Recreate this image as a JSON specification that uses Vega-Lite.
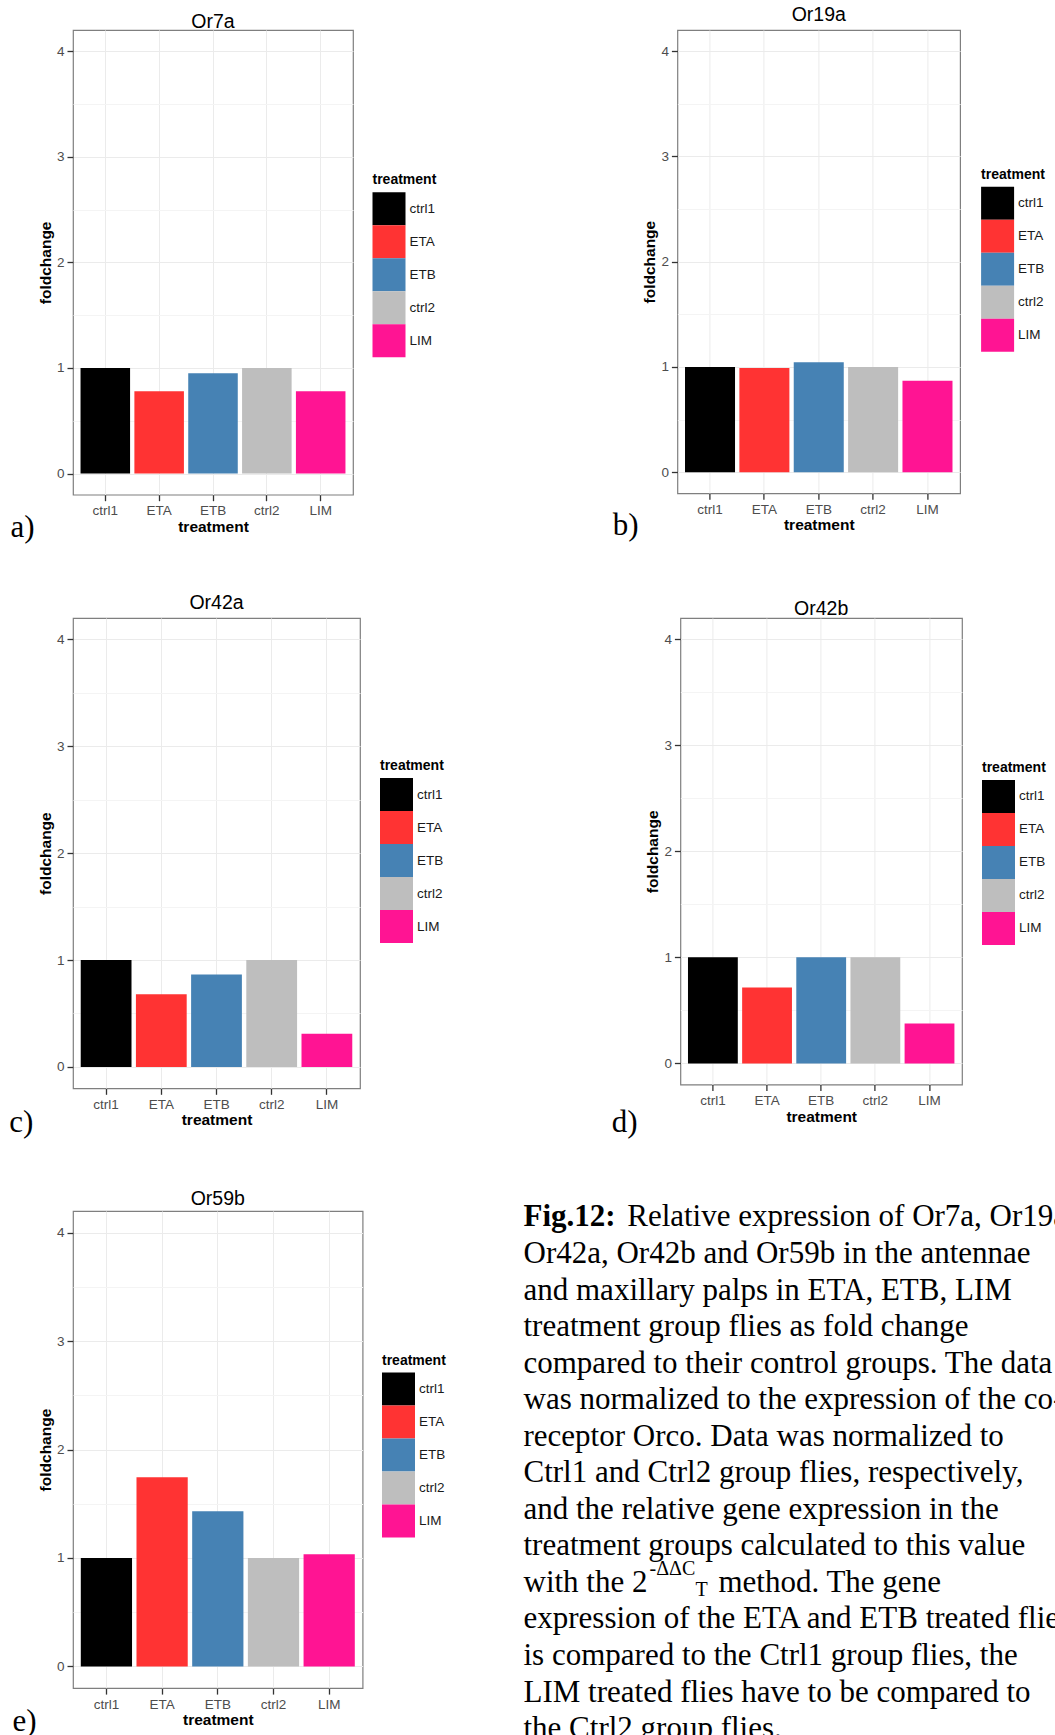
{
  "$schema": "https://vega.github.io/schema/vega-lite/v6.json",
  "padding": {"left": 9, "top": 4, "right": 0, "bottom": 0},
  "background": "white",
  "config": {
    "font": "Liberation Sans",
    "view": {"stroke": "#7f7f7f", "strokeWidth": 1.2},
    "axis": {"domain": false, "tickColor": "#333333", "tickSize": 6, "tickWidth": 1.3, "labelColor": "#4d4d4d", "labelFontSize": 13.5, "titleFontSize": 15.5, "titleFontWeight": "bold", "titleColor": "#000000", "gridColor": "#ebebeb", "gridWidth": 1},
    "title": {"fontSize": 19.5, "fontWeight": "normal", "color": "#000000", "font": "Liberation Sans"}
  },
  "datasets": {
    "bars": [
      {"gene": "Or7a", "treatment": "ctrl1", "foldchange": 1.0},
      {"gene": "Or7a", "treatment": "ETA", "foldchange": 0.78},
      {"gene": "Or7a", "treatment": "ETB", "foldchange": 0.95},
      {"gene": "Or7a", "treatment": "ctrl2", "foldchange": 1.0},
      {"gene": "Or7a", "treatment": "LIM", "foldchange": 0.78},
      {"gene": "Or19a", "treatment": "ctrl1", "foldchange": 1.0},
      {"gene": "Or19a", "treatment": "ETA", "foldchange": 0.99},
      {"gene": "Or19a", "treatment": "ETB", "foldchange": 1.045},
      {"gene": "Or19a", "treatment": "ctrl2", "foldchange": 1.0},
      {"gene": "Or19a", "treatment": "LIM", "foldchange": 0.87},
      {"gene": "Or42a", "treatment": "ctrl1", "foldchange": 1.0},
      {"gene": "Or42a", "treatment": "ETA", "foldchange": 0.68},
      {"gene": "Or42a", "treatment": "ETB", "foldchange": 0.865},
      {"gene": "Or42a", "treatment": "ctrl2", "foldchange": 1.0},
      {"gene": "Or42a", "treatment": "LIM", "foldchange": 0.31},
      {"gene": "Or42b", "treatment": "ctrl1", "foldchange": 1.0},
      {"gene": "Or42b", "treatment": "ETA", "foldchange": 0.715},
      {"gene": "Or42b", "treatment": "ETB", "foldchange": 1.0},
      {"gene": "Or42b", "treatment": "ctrl2", "foldchange": 1.0},
      {"gene": "Or42b", "treatment": "LIM", "foldchange": 0.375},
      {"gene": "Or59b", "treatment": "ctrl1", "foldchange": 1.0},
      {"gene": "Or59b", "treatment": "ETA", "foldchange": 1.745},
      {"gene": "Or59b", "treatment": "ETB", "foldchange": 1.43},
      {"gene": "Or59b", "treatment": "ctrl2", "foldchange": 1.0},
      {"gene": "Or59b", "treatment": "LIM", "foldchange": 1.035}
    ],
    "caption": [
      {"line": 1, "part": "bold", "text": "Fig.12:"},
      {"line": 1, "part": "first", "text": "Relative expression of Or7a, Or19a,"},
      {"line": 2, "part": "body", "text": "Or42a, Or42b and Or59b in the antennae"},
      {"line": 3, "part": "body", "text": "and maxillary palps in ETA, ETB, LIM"},
      {"line": 4, "part": "body", "text": "treatment group flies as fold change"},
      {"line": 5, "part": "body", "text": "compared to their control groups. The data"},
      {"line": 6, "part": "body", "text": "was normalized to the expression of the co-"},
      {"line": 7, "part": "body", "text": "receptor Orco. Data was normalized to"},
      {"line": 8, "part": "body", "text": "Ctrl1 and Ctrl2 group flies, respectively,"},
      {"line": 9, "part": "body", "text": "and the relative gene expression in the"},
      {"line": 10, "part": "body", "text": "treatment groups calculated to this value"},
      {"line": 11, "part": "body", "text": "with the 2"},
      {"line": 11, "part": "sup", "text": "-ΔΔC"},
      {"line": 11, "part": "sub", "text": "T"},
      {"line": 11, "part": "after", "text": "method. The gene"},
      {"line": 12, "part": "body", "text": "expression of the ETA and ETB treated flies"},
      {"line": 13, "part": "body", "text": "is compared to the Ctrl1 group flies, the"},
      {"line": 14, "part": "body", "text": "LIM treated flies have to be compared to"},
      {"line": 15, "part": "body", "text": "the Ctrl2 group flies."}
    ]
  },
  "spacing": 49,
  "resolve": {"scale": {"color": "independent"}, "legend": {"color": "independent"}},
  "vconcat": [
    {
      "spacing": 174.4,
      "resolve": {"scale": {"color": "independent"}, "legend": {"color": "independent"}},
      "hconcat": [
        {
          "resolve": {"scale": {"color": "independent"}, "legend": {"color": "independent"}},
          "title": {"text": "a)", "orient": "left", "anchor": "start", "angle": 0, "align": "right", "baseline": "bottom", "font": "Liberation Serif", "fontSize": 31, "fontWeight": "normal", "color": "#000000", "offset": -20.8, "dy": 8.4},
          "vconcat": [
            {
              "width": 280, "height": 464.7,
              "title": {"text": "Or7a", "offset": -2.6},
              "data": {"name": "bars"},
              "transform": [{"filter": "datum.gene === 'Or7a'"}],
              "mark": {"type": "bar"},
              "encoding": {
                "x": {"field": "treatment", "type": "nominal", "sort": ["ctrl1", "ETA", "ETB", "ctrl2", "LIM"], "scale": {"paddingInner": 0.08, "paddingOuter": 0.14}, "axis": {"title": "treatment", "labelAngle": 0, "grid": true, "bandPosition": 0.5, "labelPadding": 3, "titlePadding": 2}},
                "y": {"field": "foldchange", "type": "quantitative", "scale": {"domain": [-0.2, 4.2], "nice": false, "zero": false}, "axis": {"title": "foldchange", "values": [0, 0.5, 1, 1.5, 2, 2.5, 3, 3.5, 4], "labelExpr": "datum.value % 1 === 0 ? '' + datum.value : ''", "gridColor": {"condition": {"test": "datum.value % 1 !== 0", "value": "#f4f4f4"}, "value": "#ebebeb"}, "tickColor": {"condition": {"test": "datum.value % 1 !== 0", "value": "transparent"}, "value": "#333333"}, "labelPadding": 3, "titlePadding": 3}},
                "color": {"field": "treatment", "type": "nominal", "scale": {"domain": ["ctrl1", "ETA", "ETB", "ctrl2", "LIM"], "range": ["#000000", "#FF3333", "#4682B4", "#BEBEBE", "#FF1493"]}, "legend": {"title": "treatment", "orient": "none", "legendX": 299.5, "legendY": 143.2, "symbolType": "square", "symbolSize": 1089, "symbolStrokeWidth": 0, "rowPadding": 0, "labelFontSize": 13.5, "labelColor": "#1a1a1a", "titleFontSize": 14, "titleFontWeight": "bold", "titleColor": "#000000", "titlePadding": 5, "labelOffset": 4}}
              }
            }
          ]
        },
        {
          "resolve": {"scale": {"color": "independent"}, "legend": {"color": "independent"}},
          "title": {"text": "b)", "orient": "left", "anchor": "start", "angle": 0, "align": "right", "baseline": "bottom", "font": "Liberation Serif", "fontSize": 31, "fontWeight": "normal", "color": "#000000", "offset": -22, "dy": 8.1},
          "vconcat": [
            {
              "width": 282.7, "height": 463.3,
              "title": {"text": "Or19a", "offset": 4.1},
              "data": {"name": "bars"},
              "transform": [{"filter": "datum.gene === 'Or19a'"}],
              "mark": {"type": "bar"},
              "encoding": {
                "x": {"field": "treatment", "type": "nominal", "sort": ["ctrl1", "ETA", "ETB", "ctrl2", "LIM"], "scale": {"paddingInner": 0.08, "paddingOuter": 0.14}, "axis": {"title": "treatment", "labelAngle": 0, "grid": true, "bandPosition": 0.5, "labelPadding": 3, "titlePadding": 2}},
                "y": {"field": "foldchange", "type": "quantitative", "scale": {"domain": [-0.2, 4.2], "nice": false, "zero": false}, "axis": {"title": "foldchange", "values": [0, 0.5, 1, 1.5, 2, 2.5, 3, 3.5, 4], "labelExpr": "datum.value % 1 === 0 ? '' + datum.value : ''", "gridColor": {"condition": {"test": "datum.value % 1 !== 0", "value": "#f4f4f4"}, "value": "#ebebeb"}, "tickColor": {"condition": {"test": "datum.value % 1 !== 0", "value": "transparent"}, "value": "#333333"}, "labelPadding": 3, "titlePadding": 3}},
                "color": {"field": "treatment", "type": "nominal", "scale": {"domain": ["ctrl1", "ETA", "ETB", "ctrl2", "LIM"], "range": ["#000000", "#FF3333", "#4682B4", "#BEBEBE", "#FF1493"]}, "legend": {"title": "treatment", "orient": "none", "legendX": 303.7, "legendY": 137.8, "symbolType": "square", "symbolSize": 1089, "symbolStrokeWidth": 0, "rowPadding": 0, "labelFontSize": 13.5, "labelColor": "#1a1a1a", "titleFontSize": 14, "titleFontWeight": "bold", "titleColor": "#000000", "titlePadding": 5, "labelOffset": 4}}
              }
            }
          ]
        }
      ]
    },
    {
      "spacing": 166.4,
      "resolve": {"scale": {"color": "independent"}, "legend": {"color": "independent"}},
      "hconcat": [
        {
          "resolve": {"scale": {"color": "independent"}, "legend": {"color": "independent"}},
          "title": {"text": "c)", "orient": "left", "anchor": "start", "angle": 0, "align": "right", "baseline": "bottom", "font": "Liberation Serif", "fontSize": 31, "fontWeight": "normal", "color": "#000000", "offset": -19.5, "dy": 10.4},
          "vconcat": [
            {
              "width": 287, "height": 470.3,
              "title": {"text": "Or42a", "offset": 4.3},
              "data": {"name": "bars"},
              "transform": [{"filter": "datum.gene === 'Or42a'"}],
              "mark": {"type": "bar"},
              "encoding": {
                "x": {"field": "treatment", "type": "nominal", "sort": ["ctrl1", "ETA", "ETB", "ctrl2", "LIM"], "scale": {"paddingInner": 0.08, "paddingOuter": 0.14}, "axis": {"title": "treatment", "labelAngle": 0, "grid": true, "bandPosition": 0.5, "labelPadding": 3, "titlePadding": 2}},
                "y": {"field": "foldchange", "type": "quantitative", "scale": {"domain": [-0.2, 4.2], "nice": false, "zero": false}, "axis": {"title": "foldchange", "values": [0, 0.5, 1, 1.5, 2, 2.5, 3, 3.5, 4], "labelExpr": "datum.value % 1 === 0 ? '' + datum.value : ''", "gridColor": {"condition": {"test": "datum.value % 1 !== 0", "value": "#f4f4f4"}, "value": "#ebebeb"}, "tickColor": {"condition": {"test": "datum.value % 1 !== 0", "value": "transparent"}, "value": "#333333"}, "labelPadding": 3, "titlePadding": 3}},
                "color": {"field": "treatment", "type": "nominal", "scale": {"domain": ["ctrl1", "ETA", "ETB", "ctrl2", "LIM"], "range": ["#000000", "#FF3333", "#4682B4", "#BEBEBE", "#FF1493"]}, "legend": {"title": "treatment", "orient": "none", "legendX": 307, "legendY": 141.1, "symbolType": "square", "symbolSize": 1089, "symbolStrokeWidth": 0, "rowPadding": 0, "labelFontSize": 13.5, "labelColor": "#1a1a1a", "titleFontSize": 14, "titleFontWeight": "bold", "titleColor": "#000000", "titlePadding": 5, "labelOffset": 4}}
              }
            }
          ]
        },
        {
          "resolve": {"scale": {"color": "independent"}, "legend": {"color": "independent"}},
          "title": {"text": "d)", "orient": "left", "anchor": "start", "angle": 0, "align": "right", "baseline": "bottom", "font": "Liberation Serif", "fontSize": 31, "fontWeight": "normal", "color": "#000000", "offset": -18.1, "dy": 13.5},
          "vconcat": [
            {
              "width": 281.6, "height": 466.6,
              "title": {"text": "Or42b", "offset": -1.5},
              "data": {"name": "bars"},
              "transform": [{"filter": "datum.gene === 'Or42b'"}],
              "mark": {"type": "bar"},
              "encoding": {
                "x": {"field": "treatment", "type": "nominal", "sort": ["ctrl1", "ETA", "ETB", "ctrl2", "LIM"], "scale": {"paddingInner": 0.08, "paddingOuter": 0.14}, "axis": {"title": "treatment", "labelAngle": 0, "grid": true, "bandPosition": 0.5, "labelPadding": 3, "titlePadding": 2}},
                "y": {"field": "foldchange", "type": "quantitative", "scale": {"domain": [-0.2, 4.2], "nice": false, "zero": false}, "axis": {"title": "foldchange", "values": [0, 0.5, 1, 1.5, 2, 2.5, 3, 3.5, 4], "labelExpr": "datum.value % 1 === 0 ? '' + datum.value : ''", "gridColor": {"condition": {"test": "datum.value % 1 !== 0", "value": "#f4f4f4"}, "value": "#ebebeb"}, "tickColor": {"condition": {"test": "datum.value % 1 !== 0", "value": "transparent"}, "value": "#333333"}, "labelPadding": 3, "titlePadding": 3}},
                "color": {"field": "treatment", "type": "nominal", "scale": {"domain": ["ctrl1", "ETA", "ETB", "ctrl2", "LIM"], "range": ["#000000", "#FF3333", "#4682B4", "#BEBEBE", "#FF1493"]}, "legend": {"title": "treatment", "orient": "none", "legendX": 301.6, "legendY": 142.9, "symbolType": "square", "symbolSize": 1089, "symbolStrokeWidth": 0, "rowPadding": 0, "labelFontSize": 13.5, "labelColor": "#1a1a1a", "titleFontSize": 14, "titleFontWeight": "bold", "titleColor": "#000000", "titlePadding": 5, "labelOffset": 4}}
              }
            }
          ]
        }
      ]
    },
    {
      "spacing": 76,
      "resolve": {"scale": {"color": "independent"}, "legend": {"color": "independent"}},
      "hconcat": [
        {
          "resolve": {"scale": {"color": "independent"}, "legend": {"color": "independent"}},
          "title": {"text": "e)", "orient": "left", "anchor": "start", "angle": 0, "align": "right", "baseline": "bottom", "font": "Liberation Serif", "fontSize": 31, "fontWeight": "normal", "color": "#000000", "offset": -22.8, "dy": 9.7},
          "vconcat": [
            {
              "width": 289.6, "height": 477.1,
              "title": {"text": "Or59b", "offset": 1.2},
              "data": {"name": "bars"},
              "transform": [{"filter": "datum.gene === 'Or59b'"}],
              "mark": {"type": "bar"},
              "encoding": {
                "x": {"field": "treatment", "type": "nominal", "sort": ["ctrl1", "ETA", "ETB", "ctrl2", "LIM"], "scale": {"paddingInner": 0.08, "paddingOuter": 0.14}, "axis": {"title": "treatment", "labelAngle": 0, "grid": true, "bandPosition": 0.5, "labelPadding": 3, "titlePadding": 2}},
                "y": {"field": "foldchange", "type": "quantitative", "scale": {"domain": [-0.2, 4.2], "nice": false, "zero": false}, "axis": {"title": "foldchange", "values": [0, 0.5, 1, 1.5, 2, 2.5, 3, 3.5, 4], "labelExpr": "datum.value % 1 === 0 ? '' + datum.value : ''", "gridColor": {"condition": {"test": "datum.value % 1 !== 0", "value": "#f4f4f4"}, "value": "#ebebeb"}, "tickColor": {"condition": {"test": "datum.value % 1 !== 0", "value": "transparent"}, "value": "#333333"}, "labelPadding": 3, "titlePadding": 3}},
                "color": {"field": "treatment", "type": "nominal", "scale": {"domain": ["ctrl1", "ETA", "ETB", "ctrl2", "LIM"], "range": ["#000000", "#FF3333", "#4682B4", "#BEBEBE", "#FF1493"]}, "legend": {"title": "treatment", "orient": "none", "legendX": 309, "legendY": 142.6, "symbolType": "square", "symbolSize": 1089, "symbolStrokeWidth": 0, "rowPadding": 0, "labelFontSize": 13.5, "labelColor": "#1a1a1a", "titleFontSize": 14, "titleFontWeight": "bold", "titleColor": "#000000", "titlePadding": 5, "labelOffset": 4}}
              }
            }
          ]
        },
        {
          "width": 1, "height": 548.3,
          "view": {"stroke": null},
          "data": {"name": "caption"},
          "encoding": {
            "y": {"field": "line", "type": "quantitative", "scale": {"domain": [0.8247, 15.8247], "reverse": true, "nice": false, "zero": false}, "axis": null},
            "text": {"field": "text", "type": "nominal"}
          },
          "layer": [
            {"transform": [{"filter": "datum.part === 'body'"}], "mark": {"type": "text", "align": "left", "baseline": "middle", "font": "Liberation Serif", "fontSize": 31, "color": "#000000"}},
            {"transform": [{"filter": "datum.part === 'bold'"}], "mark": {"type": "text", "align": "left", "baseline": "middle", "font": "Liberation Serif", "fontSize": 31, "fontWeight": "bold", "color": "#000000"}},
            {"transform": [{"filter": "datum.part === 'first'"}], "mark": {"type": "text", "align": "left", "baseline": "middle", "font": "Liberation Serif", "fontSize": 31, "dx": 103.7, "color": "#000000"}},
            {"transform": [{"filter": "datum.part === 'sup'"}], "mark": {"type": "text", "align": "left", "baseline": "middle", "font": "Liberation Serif", "fontSize": 20, "dx": 126, "dy": -14, "color": "#000000"}},
            {"transform": [{"filter": "datum.part === 'sub'"}], "mark": {"type": "text", "align": "left", "baseline": "middle", "font": "Liberation Serif", "fontSize": 20, "dx": 172, "dy": 7, "color": "#000000"}},
            {"transform": [{"filter": "datum.part === 'after'"}], "mark": {"type": "text", "align": "left", "baseline": "middle", "font": "Liberation Serif", "fontSize": 31, "dx": 195, "color": "#000000"}}
          ]
        }
      ]
    }
  ]
}
